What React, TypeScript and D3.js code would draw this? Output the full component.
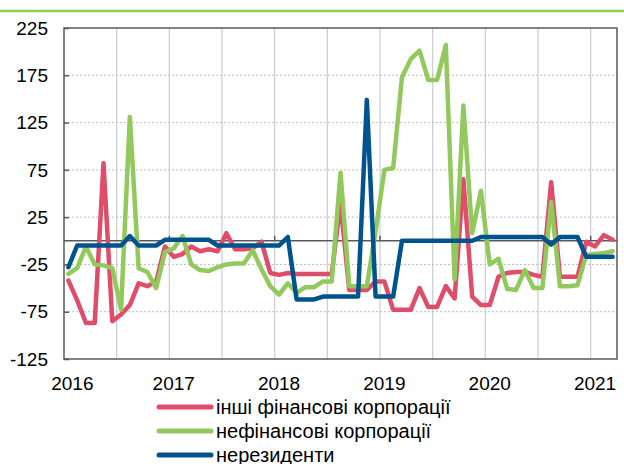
import { useEffect, useRef } from 'react';
import * as d3 from 'd3';

// monthly categories, Jan 2016 .. Mar 2021
const months = d3.timeMonth.range(new Date(2016, 0, 1), new Date(2021, 3, 1));
const yearLabels = ['2016', '2017', '2018', '2019', '2020', '2021'];
const yTicks = [225, 175, 125, 75, 25, -25, -75, -125];

const otherFinancial = [
  -42, -63, -87, -87, 82, -85, -78, -68, -45, -48,
  -43, -6, -17, -14, -6, -11, -9, -11, 8, -9,
  -9, -8, -1, -34, -36, -34, -35, -35, -35, -35,
  -35, 40, -52, -52, -52, -43, -43, -73, -73, -73,
  -50, -70, -70, -48, -61, 65, -59, -68, -68, -38,
  -34, -33, -33, -36, -38, 62, -38, -38, -38, -1,
  -6, 6, 1,
];
const nonFinancial = [
  -35, -29, -6, -25, -26, -29, -73, 131, -29, -33,
  -50, -12, -8, 5, -25, -31, -32, -28, -25, -24,
  -24, -10, -30, -48, -57, -45, -55, -49, -49, -43,
  -43, 72, -48, -48, -48, 10, 75, 77, 173, 192,
  201, 170, 170, 207, -41, 143, 8, 53, -25, -19,
  -51, -52, -31, -50, -50, 41, -48, -48, -47, -15,
  -14, -13, -11,
];
const nonResidents = [
  -28, -5, -5, -5, -5, -5, -5, 5, -5, -5,
  -5, 1, 1, 1, 1, 1, 1, -5, -5, -5,
  -5, -5, -5, -5, -5, 4, -62, -62, -62, -59,
  -59, -59, -59, -59, 149, -59, -59, -59, 0, 0,
  0, 0, 0, 0, 0, 0, 0, 4, 4, 4,
  4, 4, 4, 4, 4, -4, 4, 4, 4, -17,
  -17, -17, -17,
];

const seriesNames = ['інші фінансові корпорації', 'нефінансові корпорації', 'нерезиденти'];
const seriesColors = ['#E04D6A', '#92C95C', '#00548E'];

export default function App() {
  const svgRef = useRef<SVGSVGElement>(null);

  useEffect(() => {
    const width = 624;
    const height = 464;
    const left = 64, right = 617, top = 28, bottom = 359;
    const font = '"Liberation Sans", Arial, sans-serif';

    const svg = d3.select(svgRef.current);
    svg.selectAll('*').remove();
    svg.attr('width', width).attr('height', height);

    svg.append('rect').attr('width', width).attr('height', height).attr('fill', '#fff');

    // green rule at the top of the page
    svg.append('line')
      .attr('x1', 0).attr('x2', width).attr('y1', 11).attr('y2', 11)
      .attr('stroke', '#92D050').attr('stroke-width', 2.5);

    const x = d3.scaleBand<number>()
      .domain(months.map((_, i) => i))
      .range([left, right])
      .padding(0);
    const cx = (i: number) => (x(i) as number) + x.bandwidth() / 2;

    const y = d3.scaleLinear().domain([-125, 225]).range([bottom, top]);

    // vertical grid every half year
    const halfYears = months.map((_, i) => i).filter((i) => i > 0 && i % 6 === 0);
    svg.append('g').selectAll('line')
      .data(halfYears)
      .enter()
      .append('line')
      .attr('x1', (i) => x(i) as number).attr('x2', (i) => x(i) as number)
      .attr('y1', top).attr('y2', bottom)
      .attr('stroke', '#CDD1D5').attr('stroke-width', 1.3);

    // horizontal dotted grid
    svg.append('g').selectAll('line')
      .data(yTicks.filter((t) => t !== 225 && t !== -125))
      .enter()
      .append('line')
      .attr('x1', left).attr('x2', right)
      .attr('y1', (d) => y(d)).attr('y2', (d) => y(d))
      .attr('stroke', '#BDBDBD').attr('stroke-width', 1)
      .attr('stroke-dasharray', '2,2');

    // zero line with year ticks
    svg.append('line')
      .attr('x1', left).attr('x2', right).attr('y1', y(0)).attr('y2', y(0))
      .attr('stroke', '#595959').attr('stroke-width', 1.5);
    svg.append('g').selectAll('line')
      .data(halfYears.filter((i) => i % 12 === 0))
      .enter()
      .append('line')
      .attr('x1', (i) => x(i) as number).attr('x2', (i) => x(i) as number)
      .attr('y1', y(0) - 5).attr('y2', y(0))
      .attr('stroke', '#595959').attr('stroke-width', 1.5);

    // plot frame
    svg.append('rect')
      .attr('x', left).attr('y', top)
      .attr('width', right - left).attr('height', bottom - top)
      .attr('fill', 'none').attr('stroke', '#595959').attr('stroke-width', 1.5);

    // y axis
    const yAxis = svg.append('g')
      .attr('transform', `translate(${left},0)`)
      .call(d3.axisRight(y).tickValues(yTicks).tickSize(5).tickFormat(() => ''));
    yAxis.select('.domain').remove();
    yAxis.selectAll('line').attr('stroke', '#595959').attr('stroke-width', 1.5);

    svg.append('g').selectAll('text')
      .data(yTicks)
      .enter()
      .append('text')
      .attr('x', 48)
      .attr('y', (d) => y(d))
      .attr('dy', '0.35em')
      .attr('text-anchor', 'end')
      .style('font-family', font)
      .style('font-size', '19px')
      .attr('fill', '#000')
      .text((d) => d);

    // x labels at Jan of each year
    svg.append('g').selectAll('text')
      .data(yearLabels)
      .enter()
      .append('text')
      .attr('x', (d, k) => cx(k * 12) + (k === 0 ? 4 : 0))
      .attr('y', 390)
      .attr('text-anchor', 'middle')
      .style('font-family', font)
      .style('font-size', '19px')
      .attr('fill', '#000')
      .text((d) => d);

    // lines
    const line = d3.line<number>()
      .x((_, i) => cx(i))
      .y((d) => y(d))
      .curve(d3.curveLinear);

    [otherFinancial, nonFinancial, nonResidents].forEach((s, k) => {
      svg.append('path')
        .datum(s)
        .attr('d', line)
        .attr('fill', 'none')
        .attr('stroke', seriesColors[k])
        .attr('stroke-width', 4.5)
        .attr('stroke-linejoin', 'round')
        .attr('stroke-linecap', 'round');
    });

    // legend
    const legend = svg.append('g');
    seriesNames.forEach((name, k) => {
      const ly = 407 + k * 24;
      legend.append('line')
        .attr('x1', 159).attr('x2', 211).attr('y1', ly).attr('y2', ly)
        .attr('stroke', seriesColors[k]).attr('stroke-width', 5)
        .attr('stroke-linecap', 'round');
      legend.append('text')
        .attr('x', 216).attr('y', ly).attr('dy', '0.35em')
        .style('font-family', font)
        .style('font-size', '20px')
        .attr('fill', '#000')
        .text(name);
    });
  }, []);

  return (
    <div style={{ position: 'absolute', left: 0, top: 0 }}>
      <svg ref={svgRef} style={{ display: 'block' }}></svg>
    </div>
  );
}
